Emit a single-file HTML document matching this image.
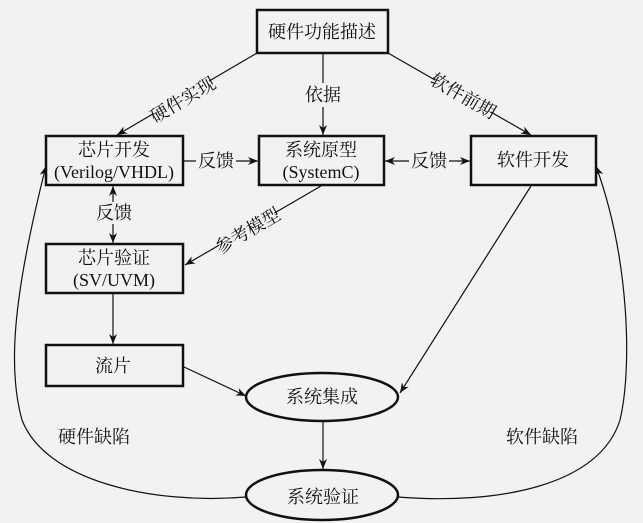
<!DOCTYPE html>
<html><head><meta charset="utf-8"><style>
html,body{margin:0;padding:0;background:#f2f2f2;}
svg{display:block;}
text{font-family:"Liberation Serif","Noto Serif CJK SC",serif;font-size:18px;fill:#111;text-anchor:middle;dominant-baseline:central;}
</style></head><body>
<svg width="643" height="523" viewBox="0 0 643 523" xmlns="http://www.w3.org/2000/svg">
<defs>
<marker id="a" viewBox="0 0 10 10" refX="10" refY="5" markerWidth="10" markerHeight="10" orient="auto-start-reverse" markerUnits="userSpaceOnUse"><path d="M0,1 L10,5 L0,9 L3,5 z" fill="#111"/></marker>
</defs>
<rect width="643" height="523" fill="#f2f2f2"/>
<g fill="none" stroke="#111" stroke-width="2.5">
<rect x="257" y="10" width="131" height="43"/>
<rect x="46" y="136" width="137" height="49"/>
<rect x="259" y="136" width="125" height="49"/>
<rect x="471" y="136" width="125" height="49"/>
<rect x="46" y="244" width="137" height="49"/>
<rect x="46" y="345" width="137" height="41"/>
<ellipse cx="322" cy="397" rx="76" ry="24"/>
<ellipse cx="322" cy="495" rx="76" ry="25"/>
</g>
<g fill="none" stroke="#111" stroke-width="1.2">
<line x1="257" y1="53" x2="117" y2="135" marker-end="url(#a)"/>
<line x1="323" y1="53" x2="323" y2="135" marker-end="url(#a)"/>
<line x1="388" y1="53" x2="531" y2="135" marker-end="url(#a)"/>
<line x1="184" y1="161" x2="258" y2="161" marker-end="url(#a)"/>
<line x1="385" y1="161" x2="470" y2="161" marker-start="url(#a)" marker-end="url(#a)"/>
<line x1="113" y1="186" x2="113" y2="243" marker-start="url(#a)" marker-end="url(#a)"/>
<line x1="321" y1="186" x2="185" y2="265" marker-end="url(#a)"/>
<line x1="113" y1="293" x2="113" y2="344" marker-end="url(#a)"/>
<line x1="184" y1="367" x2="246" y2="396" marker-end="url(#a)"/>
<line x1="531" y1="186" x2="400" y2="393" marker-end="url(#a)"/>
<line x1="323" y1="422" x2="323" y2="469" marker-end="url(#a)"/>
<path d="M246,497 C150,505 45,480 22,420 C8,370 12,300 46,166" marker-end="url(#a)"/>
<path d="M398,497 C500,505 600,485 620,420 C632,370 630,260 596,166" marker-end="url(#a)"/>
</g>
<g>
<rect x="196" y="150" width="40" height="22" fill="#f2f2f2"/>
<rect x="409" y="150" width="40" height="22" fill="#f2f2f2"/>
<rect x="96" y="202" width="36" height="22" fill="#f2f2f2"/>
<rect x="304" y="83" width="38" height="24" fill="#f2f2f2"/>
<rect x="151" y="89" width="64" height="22" fill="#f2f2f2" transform="rotate(-30.5 183 100)"/>
<rect x="431" y="85" width="64" height="22" fill="#f2f2f2" transform="rotate(30 463 96)"/>
<rect x="216" y="220" width="64" height="22" fill="#f2f2f2" transform="rotate(-30.5 248 231)"/>
</g>
<text x="322" y="32">硬件功能描述</text>
<text x="114" y="150">芯片开发</text>
<text x="114" y="172">(Verilog/VHDL)</text>
<text x="321" y="150">系统原型</text>
<text x="321" y="172">(SystemC)</text>
<text x="533" y="160">软件开发</text>
<text x="114" y="258">芯片验证</text>
<text x="114" y="280">(SV/UVM)</text>
<text x="113" y="366">流片</text>
<text x="322" y="397">系统集成</text>
<text x="323" y="497">系统验证</text>
<text x="216" y="161">反馈</text>
<text x="429" y="161">反馈</text>
<text x="114" y="213">反馈</text>
<text x="323" y="95">依据</text>
<text x="183" y="100" transform="rotate(-30.5 183 100)">硬件实现</text>
<text x="463" y="96" transform="rotate(30 463 96)">软件前期</text>
<text x="248" y="231" transform="rotate(-30.5 248 231)">参考模型</text>
<text x="94" y="437">硬件缺陷</text>
<text x="542" y="437">软件缺陷</text>
</svg>
</body></html>
